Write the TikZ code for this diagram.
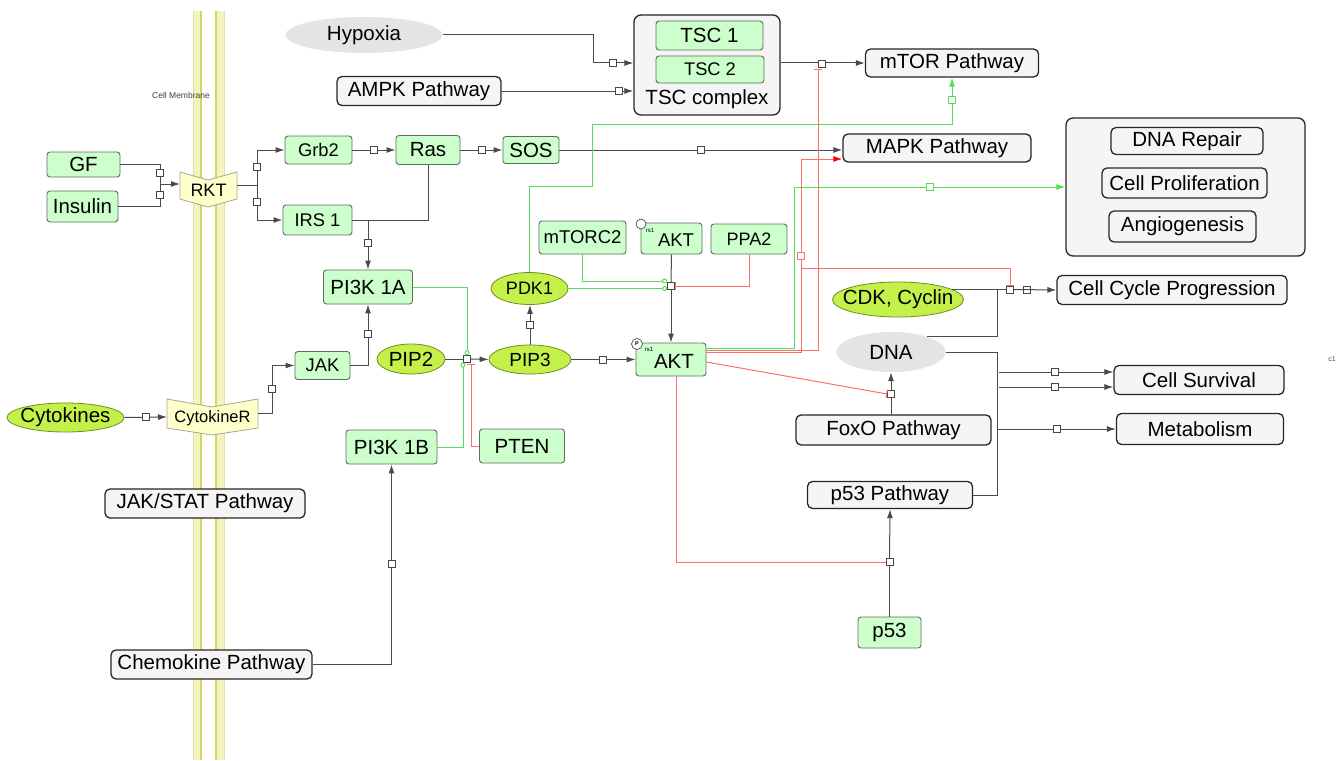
\documentclass[tikz,border=0pt]{standalone}
\usepackage{fontspec}
\setmainfont{Liberation Sans}
\usetikzlibrary{arrows.meta,shapes.geometric,calc}
\definecolor{gfill}{HTML}{CCFFCC}
\definecolor{gborder}{HTML}{5E6E5E}
\definecolor{yfill}{HTML}{C4F04A}
\definecolor{yborder}{HTML}{6E8E24}
\definecolor{efill}{HTML}{E4E4E4}
\definecolor{pfill}{HTML}{F5F5F5}
\definecolor{chfill}{HTML}{FFFFCC}
\definecolor{chborder}{HTML}{A8A888}
\definecolor{memfill}{HTML}{F4F4C2}
\definecolor{memedge}{HTML}{E2E29A}
\definecolor{memline}{HTML}{D6D65A}
\definecolor{lgreen}{HTML}{55DD55}
\definecolor{lred}{HTML}{FF6E6E}
\definecolor{lineg}{HTML}{4A4A4A}
\newcommand\fszA{\fontsize{20.5}{24}\selectfont}
\newcommand\fszB{\fontsize{18.3}{22}\selectfont}
\newcommand\fszC{\fontsize{16.5}{20}\selectfont}
\begin{document}
\begin{tikzpicture}[x=1pt,y=-1pt,
  wh/.style 2 args={minimum width=#1pt, minimum height=#2pt},
  ln/.style={draw=lineg, line width=1pt},
  arr/.style={ln, -{Latex[length=9pt,width=6pt]}},
  gln/.style={draw=lgreen, line width=1pt},
  garr/.style={gln, -{Latex[length=9pt,width=6pt]}},
  rln/.style={draw=lred, line width=1pt},
  rarr/.style={rln, -{Latex[length=9pt,width=6pt,color=red,fill=red]}},
  tbar/.style={-{Bar[width=8pt]}},
  gcirc/.style={-{Circle[open,length=5pt,width=5pt]}},
  sq/.style={rectangle, draw=gray!55!black, fill=white, minimum size=7pt, inner sep=0pt, line width=0.8pt},
  sqg/.style={sq, draw=lgreen},
  sqr/.style={sq, draw=lred},
  gbox/.style={rectangle, rounded corners=3pt, draw=gborder, fill=gfill, line width=0.9pt, inner sep=0pt, font=\fszA},
  pbox/.style={rectangle, rounded corners=5pt, draw=black!85, fill=pfill, line width=1.3pt, inner sep=0pt, font=\fszA},
  yell/.style={ellipse, draw=yborder, fill=yfill, line width=0.8pt, inner sep=0pt},
  gell/.style={ellipse, fill=efill, draw=none, inner sep=0pt},
  etxt/.style={font=\fszA, inner sep=0pt},
  bigbox/.style={rectangle, rounded corners=7pt, draw=black!85, fill=pfill, line width=1.3pt, inner sep=0pt},
  chev/.style={fill=chfill, draw=chborder, line width=0.8pt}
]
\useasboundingbox (0,0) rectangle (1338,760);
\fill[white] (0,0) rectangle (1338,760);

% membrane
\fill[memfill] (193,11) rectangle (202,760);
\fill[memfill] (215,11) rectangle (224,760);
\draw[memedge, line width=0.5pt] (193,11) -- (193,760) (224,11) -- (224,760);
\draw[memline, line width=1.8pt] (201,11) -- (201,760);
\draw[memline, line width=1.8pt] (216,11) -- (216,760);
\node[font=\fontsize{8.5}{10}\selectfont, text=black!75] (memlbl) at (181,95) {Cell Membrane};

% chevrons
\filldraw[chev] (180,172) -- (208,180) -- (237,172) -- (237,199) -- (208,207) -- (180,199) -- cycle;
\node[font=\fontsize{18}{22}\selectfont] (rkt) at (208.5,190) {RKT};
\filldraw[chev] (167,399) -- (212,407) -- (258,399) -- (258,428) -- (212,435) -- (167,428) -- cycle;
\node[font=\fszC] (cytr) at (212.5,418) {CytokineR};
\coordinate (rktL) at (180,184);
\coordinate (rktR) at (237,185);
\coordinate (cytrL) at (167,417);
\coordinate (cytrR) at (258,413);

% TSC complex
\node[bigbox, wh={146}{100}] (tsc) at (707,65) {};
\node[gbox, wh={107}{29}] (tsc1) at (709.5,35.5) {TSC 1};
\node[gbox, wh={108}{27}, font=\fszB] (tsc2) at (710,69.5) {TSC 2};
\node[font=\fszA] (tsclbl) at (707,99) {TSC complex};

% output box
\node[bigbox, wh={239}{138}] (outbox) at (1185.5,187) {};
\node[pbox, wh={152}{27}] (dnarep) at (1187,141) {DNA Repair};
\node[pbox, wh={165}{30}] (cellprol) at (1184.5,183) {Cell Proliferation};
\node[pbox, wh={147}{31}] (angio) at (1182.5,226.5) {Angiogenesis};

% nodes
\node[gell, wh={157}{36}] (hyp) at (364,35) {};
\node[etxt] (hyptxt) at (hyp.center) {Hypoxia};
\node[pbox, wh={164}{29}] (ampk) at (419,91) {AMPK Pathway};
\node[pbox, wh={173}{28}] (mtor) at (952,63) {mTOR Pathway};
\node[pbox, wh={188}{28}] (mapk) at (937,148) {MAPK Pathway};

\node[gbox, wh={73}{25}] (gf) at (83.5,164.5) {GF};
\node[gbox, wh={71}{31}] (ins) at (82.5,206.5) {Insulin};
\node[gbox, wh={67}{28}, font=\fszB] (grb2) at (318.5,150) {Grb2};
\node[gbox, wh={69}{30}, font=\fszB] (irs1) at (317.5,220) {IRS 1};
\node[gbox, wh={64}{29}] (ras) at (428,150) {Ras};
\node[gbox, wh={56}{27}] (sos) at (531,150) {SOS};
\node[gbox, wh={89}{34}] (pi3ka) at (368,287) {PI3K 1A};
\node[gbox, wh={55}{28}, font=\fszB] (jak) at (322.5,365.5) {JAK};
\node[yell, wh={117}{29}] (cyt) at (65.5,417.5) {};
\node[etxt] (cyttxt) at (cyt.center) {Cytokines};
\node[yell, wh={68}{30}] (pip2) at (411,359) {};
\node[etxt] (pip2txt) at (pip2.center) {PIP2};
\node[gbox, wh={91}{34}] (pi3kb) at (391.5,447) {PI3K 1B};
\node[gbox, wh={85}{34}] (pten) at (522,446) {PTEN};
\node[pbox, wh={200}{29}] (jakstat) at (205,503.5) {JAK/STAT Pathway};
\node[pbox, wh={201}{29}] (chemo) at (211.5,664.5) {Chemokine Pathway};
\node[yell, wh={82}{29}] (pip3) at (530,359.5) {};
\node[etxt, font=\fontsize{19}{22}\selectfont] (pip3txt) at (pip3.center) {PIP3};
\node[yell, wh={77}{32}] (pdk1) at (529.5,288.5) {};
\node[etxt, font=\fontsize{18}{22}\selectfont] (pdk1txt) at (pdk1.center) {PDK1};

\node[gbox, wh={70}{33}] (akt) at (671,359.5) {};
\node[font=\fszA] (akttxt) at (674,361) {AKT};
\node[font=\fontsize{6}{6}\selectfont] (aktrs) at (649,349) {rs1};
\node[circle, draw=gray!60!black, fill=white, minimum size=11pt, inner sep=0pt, line width=0.7pt, font=\fontsize{5.5}{6}\selectfont\bfseries] (aktp) at (637,344) {P};

\node[gbox, wh={87}{33}, font=\fontsize{18.5}{22}\selectfont] (mtorc2) at (582.5,237.5) {mTORC2};
\node[gbox, wh={61}{31}] (akt2) at (671.5,238.5) {};
\node[font=\fontsize{18.5}{22}\selectfont] (akt2txt) at (676,240) {AKT};
\node[font=\fontsize{6}{6}\selectfont] (akt2rs) at (650,230) {rs1};
\node[circle, draw=gray!60!black, fill=white, minimum size=10pt, inner sep=0pt, line width=0.7pt] (akt2c) at (641,224) {};
\node[gbox, wh={76}{30}, font=\fontsize{18}{22}\selectfont] (ppa2) at (749,239) {PPA2};

\node[yell, wh={131}{35}] (cdk) at (898,299.5) {};
\node[etxt] (cdktxt) at (cdk.center) {CDK, Cyclin};
\node[gell, wh={109}{40}] (dna) at (891,352) {};
\node[etxt] (dnatxt) at (dna.center) {DNA};
\node[pbox, wh={195}{30}] (foxo) at (893.5,430) {FoxO Pathway};
\node[pbox, wh={165}{27}] (p53p) at (890,495) {p53 Pathway};
\node[gbox, wh={63}{31}] (p53) at (889.5,632.5) {p53};
\node[pbox, wh={230}{29}] (ccp) at (1172,290) {Cell Cycle Progression};
\node[pbox, wh={170}{29}] (csurv) at (1199,380) {Cell Survival};
\node[pbox, wh={167}{31}] (metab) at (1200,429) {Metabolism};
\node[font=\fontsize{7}{8}\selectfont, text=black!70] (c1) at (1332,359) {c1};

% ---------- connectors ----------
% Hypoxia, AMPK -> TSC
\draw[arr] (hyp.east) -| (593,63) -- (tsc.west |- 593,63);
\draw[arr] (ampk.east) -- (tsc.west |- ampk.east);
% TSC -> mTOR
\draw[arr] (tsc.east |- mtor.west) -- (mtor.west);

% GF / Insulin -> RKT
\coordinate (jgi) at (160,184);
\draw[ln] (gf.east) -| (jgi);
\draw[ln] (ins.east) -| (jgi);
\draw[arr] (jgi) -- (rktL);
% RKT -> Grb2, IRS1
\coordinate (jr) at (257,185);
\draw[ln] (rktR) -- (jr);
\draw[arr] (jr) |- (grb2.west);
\draw[arr] (jr) |- (irs1.west);
% Grb2 -> Ras -> SOS -> MAPK
\draw[arr] (grb2.east) -- (ras.west);
\draw[arr] (ras.east) -- (sos.west);
\draw[arr] (sos.east) -- (sos.east -| mapk.west);
% Ras, IRS1 -> PI3K 1A
\coordinate (jri) at (368,220);
\draw[ln] (ras.south) |- (jri);
\draw[ln] (irs1.east) -- (jri);
\draw[arr] (jri) -- (pi3ka.north);
% JAK -> PI3K 1A
\draw[arr] (jak.east) -| (pi3ka.south);
% Cytokines -> CytokineR -> JAK
\draw[arr] (cyt.east) -- (cytrL);
\draw[arr] (cytrR) -- (272,413) |- (jak.west);
% Chemokine -> PI3K 1B
\draw[arr] (chemo.east) -| (pi3kb.south);

% PIP2 -> PIP3
\node[sq] (jpip) at (467,359) {};
\draw[ln] (pip2.east) -- (jpip.west);
\draw[arr] (jpip.east) -- (pip3.west);
\draw[gln,gcirc] (pi3ka.east) -| (jpip.north);
\draw[gln,gcirc] (pi3kb.east) -| (463,362.5);
\draw[rln,tbar] (pten.west) -| (471,363.5);
% PIP3 -> PDK1, AKT
\draw[arr] (pip3.north) -- (pip3.north |- pdk1.south);
\draw[arr] (pip3.east) -- (akt.west);

% AKT activation
\node[sq] (jakt) at (671,286) {};
\draw[ln] (akt2.south) -- (jakt.north);
\draw[arr] (jakt.south) -- (akt.north);
\draw[gln,gcirc] (mtorc2.south) |- (jakt.west |- 0,281);
\draw[gln,gcirc] (pdk1.east) -- (jakt.west |- pdk1.east);
\draw[rln,tbar] (ppa2.south) |- (jakt.east);

% PDK1 -> mTOR (green)
\coordinate (g1) at (952,124);
\draw[garr] (pdk1.north) |- (592,186) |- (g1) -- (mtor.south);

% AKT outputs
\coordinate (aktE1) at (706,348);
\coordinate (aktE2) at (706,350);
\coordinate (aktE3) at (706,352);
\coordinate (rbr) at (801,268);
\draw[garr] (aktE1) -| (794,187) -- (outbox.west);
\draw[rln,tbar] (aktE2) -| (818,69);
\draw[rarr] (aktE3) -| (801,159) -- (mapk.west |- 801,159);

% FoxO -> DNA
\node[sq] (sfox) at (891,394) {};
\draw[ln] (dna.south |- foxo.north) -- (sfox.south);
\draw[arr] (sfox.north) -- (dna.south);
\draw[rln,tbar] ($(akt.east)+(0,2.5)$) -- (sfox.west);

% p53
\node[sq] (sp53) at (889.5,562) {};
\draw[ln] (p53.north) -- (sp53.south);
\draw[arr] (sp53.north) -- (p53p.south);
\draw[rln] ($(akt.south)+(5,0)$) |- (sp53.west);

% CDK, DNA -> Cell Cycle Progression
\coordinate (jc) at (997,289.5);
\node[sq] (scc1) at (1010,289.5) {};
\node[sq] (scc2) at (1027,289.5) {};
\draw[ln] (cdk.11) -| (jc);
\draw[ln] (dna.23) -| (jc);
\draw[ln] (jc) -- (scc1.west);
\draw[arr] (scc1.east) -- (ccp.west);
\draw[rln,tbar] (rbr) -| (scc1.north);

% DNA -> Cell Survival, Metabolism, p53 Pathway
\coordinate (jv) at (997,495);
\coordinate (cs1) at (999,372);
\coordinate (cs2) at (999,387);
\draw[ln] (dna.east) -| (jv) -- (p53p.east);
\draw[arr] (cs1) -- (csurv.west |- cs1);
\draw[arr] (cs2) -- (csurv.west |- cs2);
\draw[arr] (jv |- metab.west) -- (metab.west);

% ---------- squares ----------
\node[sq] (q1) at (613,63) {};
\node[sq] (q2) at (619,90.5) {};
\node[sq] (q3) at (822,63.5) {};
\node[sq] (q4) at (160,173) {};
\node[sq] (q5) at (160,195) {};
\node[sq] (q6) at (257,167) {};
\node[sq] (q7) at (257,202) {};
\node[sq] (q8) at (374,150) {};
\node[sq] (q9) at (482,150) {};
\node[sq] (q10) at (701,150) {};
\node[sq] (q11) at (368,243) {};
\node[sq] (q12) at (368,334) {};
\node[sq] (q13) at (146,417) {};
\node[sq] (q14) at (272,389) {};
\node[sq] (q15) at (391.5,564) {};
\node[sq] (q16) at (530,325) {};
\node[sq] (q17) at (603,359.5) {};
\node[sq] (q18) at (1055,372) {};
\node[sq] (q19) at (1055,387) {};
\node[sq] (q20) at (1057,429) {};
\node[sqg] (q21) at (952,100) {};
\node[sqg] (q22) at (930,187) {};
\node[sqr] (q23) at (801,256) {};
\end{tikzpicture}
\end{document}
